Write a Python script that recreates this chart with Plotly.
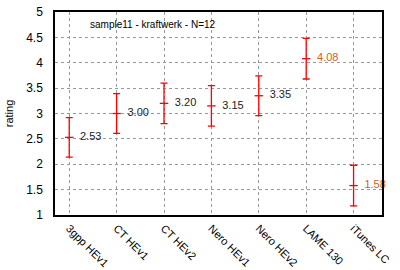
import plotly.graph_objects as go

categories = ["3gpp HEv1", "CT HEv1", "CT HEv2", "Nero HEv1", "Nero HEv2", "LAME 130", "iTunes LC"]
means = [2.53, 3.00, 3.20, 3.15, 3.35, 4.08, 1.58]
errors = [0.39, 0.39, 0.40, 0.40, 0.39, 0.40, 0.40]
label_colors = ["#222222", "#222222", "#222222", "#222222", "#222222", "#d2601a", "#d2601a"]
y_ticks = [1, 1.5, 2, 2.5, 3, 3.5, 4, 4.5, 5]
y_tick_labels = ["1", "1.5", "2", "2.5", "3", "3.5", "4", "4.5", "5"]

idx = list(range(len(categories)))

fig = go.Figure()
fig.add_trace(go.Scatter(
    x=idx, y=means, mode="markers+text",
    marker=dict(symbol="line-ew", size=6, color="red", line=dict(color="red", width=1.3)),
    error_y=dict(type="data", array=errors, visible=True, color="red", thickness=1.3, width=3.5),
    text=[f"  {m:.2f}" for m in means],
    textposition="middle right",
    textfont=dict(family="Liberation Sans, Arial", size=11, color=label_colors),
    cliponaxis=False,
    showlegend=False,
))

fig.update_layout(
    width=400, height=270,
    margin=dict(l=55, r=18, t=12, b=55, autoexpand=False),
    paper_bgcolor="white", plot_bgcolor="white",
    font=dict(family="Liberation Sans, Arial", size=11, color="black"),
    annotations=[dict(text="sample11 - kraftwerk - N=12", x=0.3, y=0.975, xref="paper", yref="paper",
                      xanchor="center", yanchor="top", showarrow=False,
                      font=dict(size=10, color="black"))],
)
fig.update_xaxes(
    range=[-0.3, 6.6], tickmode="array", tickvals=idx, ticktext=categories,
    tickangle=45, showline=True, linecolor="black", linewidth=1.5, mirror=True,
    showgrid=True, gridcolor="#999999", griddash="dot", gridwidth=1,
    ticks="", zeroline=False, tickfont=dict(size=11), automargin=False,
    ticklabelstandoff=1,
)
fig.update_yaxes(
    range=[1, 5], tickmode="array", tickvals=y_ticks, ticktext=y_tick_labels,
    showline=True, linecolor="black", linewidth=1.5, mirror=True,
    showgrid=True, gridcolor="#999999", griddash="dot", gridwidth=1,
    ticks="", zeroline=False, title=dict(text="rating", font=dict(size=11), standoff=10),
    tickfont=dict(size=12), automargin=False, ticklabelstandoff=8,
)

fig.write_html("out.html")
